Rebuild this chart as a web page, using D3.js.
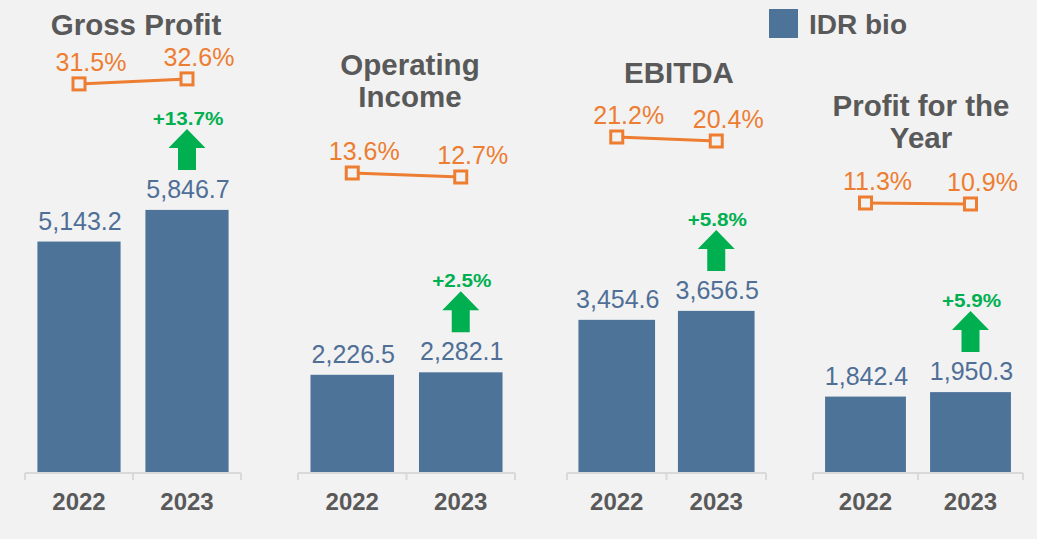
<!DOCTYPE html>
<html>
<head>
<meta charset="utf-8">
<script src="https://cdn.jsdelivr.net/npm/d3@7"></script>
<style>
  html, body { margin: 0; padding: 0; background: #f2f2f2; }
  svg { display: block; font-family: "Liberation Sans", Arial, sans-serif; }
</style>
</head>
<body>
<svg id="chart" width="1037" height="539"></svg>
<script>
// ---- data ----
const categories = ["2022", "2023"];
const metricTitles = [["Gross Profit"], ["Operating", "Income"], ["EBITDA"], ["Profit for the", "Year"]];
const values2022 = [5143.2, 2226.5, 3454.6, 1842.4];
const values2023 = [5846.7, 2282.1, 3656.5, 1950.3];
const margin2022 = [31.5, 13.6, 21.2, 11.3];
const margin2023 = [32.6, 12.7, 20.4, 10.9];
const growthLabels = ["+13.7%", "+2.5%", "+5.8%", "+5.9%"];
const legendLabel = "IDR bio";

// ---- per-panel axis settings (like separate Excel charts) ----
const valueAxisMax = [10000, 10200, 10150, 10850];
const marginAxisMin = [-54.1, -53.9, -46, -96.7];
const marginAxisMax = [44.9, 47.35, 44, 83.3];

// ---- layout ----
const W = 1037, H = 539;
const baseY = 473, topY = 23;
const panelRanges = [[25, 241], [298, 515], [567, 766], [813, 1023]];
const titleCenters = [136, 410, 679, 921];
const titleBaselines = [35, 75, 83, 116];

const C = {
  bar: "#4e7399",
  barLabel: "#4f6f97",
  orange: "#ed7d31",
  green: "#00b050",
  grey: "#595959",
  axis: "#d9d9d9",
  bg: "#f2f2f2"
};

const svg = d3.select("#chart");
svg.append("rect").attr("width", W).attr("height", H).attr("fill", C.bg);

metricTitles.forEach((title, i) => {
  const g = svg.append("g");
  const vals = [values2022[i], values2023[i]];
  const margins = [margin2022[i], margin2023[i]];

  const x = d3.scaleBand().domain(categories).range(panelRanges[i])
    .paddingInner(0.23).paddingOuter(0.115);
  const y = d3.scaleLinear().domain([0, valueAxisMax[i]]).range([baseY, topY]);
  const ym = d3.scaleLinear().domain([marginAxisMin[i], marginAxisMax[i]]).range([baseY, topY]);

  // bars
  g.selectAll("rect.bar").data(categories).join("rect")
    .attr("class", "bar")
    .attr("x", d => x(d))
    .attr("width", x.bandwidth())
    .attr("y", (d, j) => y(vals[j]))
    .attr("height", (d, j) => baseY - y(vals[j]))
    .attr("fill", C.bar);

  // value labels
  g.selectAll("text.val").data(categories).join("text")
    .attr("class", "val")
    .attr("x", d => x(d) + x.bandwidth() / 2 + 1)
    .attr("y", (d, j) => y(vals[j]) - 12)
    .attr("text-anchor", "middle")
    .attr("font-size", 25)
    .attr("fill", C.barLabel)
    .text((d, j) => d3.format(",.1f")(vals[j]));

  // category axis
  const [r0, r1] = x.range();
  const step = x.step();
  g.append("line").attr("x1", r0).attr("x2", r1).attr("y1", baseY).attr("y2", baseY)
    .attr("stroke", C.axis).attr("stroke-width", 2);
  d3.range(categories.length + 1).forEach(k => {
    const tx = r0 + k * step;
    g.append("line").attr("x1", tx).attr("x2", tx).attr("y1", baseY).attr("y2", baseY + 7)
      .attr("stroke", C.axis).attr("stroke-width", 2);
  });
  g.selectAll("text.cat").data(categories).join("text")
    .attr("class", "cat")
    .attr("x", d => x(d) + x.bandwidth() / 2)
    .attr("y", 510)
    .attr("text-anchor", "middle")
    .attr("font-size", 24)
    .attr("font-weight", "bold")
    .attr("fill", C.grey)
    .text(d => d);

  // margin line
  const cx = d => x(d) + x.bandwidth() / 2;
  const line = d3.line().x(d => cx(d)).y((d, j) => ym(margins[j]));
  g.append("path").datum(categories).attr("d", line)
    .attr("fill", "none").attr("stroke", C.orange).attr("stroke-width", 3);
  g.selectAll("rect.mk").data(categories).join("rect")
    .attr("class", "mk")
    .attr("x", d => cx(d) - 6)
    .attr("y", (d, j) => ym(margins[j]) - 6)
    .attr("width", 12).attr("height", 12)
    .attr("fill", C.bg).attr("stroke", C.orange).attr("stroke-width", 3);
  g.selectAll("text.mg").data(categories).join("text")
    .attr("class", "mg")
    .attr("x", d => cx(d) + 12)
    .attr("y", (d, j) => ym(margins[j]) - 13)
    .attr("text-anchor", "middle")
    .attr("font-size", 25)
    .attr("fill", C.orange)
    .text((d, j) => d3.format(".1f")(margins[j]) + "%");

  // growth arrow above 2023 bar
  const ax = cx(categories[1]);
  const aBottom = y(vals[1]) - 40;
  const aH = 41, headH = 19, headW = 37, shaftW = 18;
  const aTop = aBottom - aH;
  g.append("path")
    .attr("d", `M${ax},${aTop} L${ax + headW / 2},${aTop + headH} L${ax + shaftW / 2},${aTop + headH}
      L${ax + shaftW / 2},${aBottom} L${ax - shaftW / 2},${aBottom} L${ax - shaftW / 2},${aTop + headH}
      L${ax - headW / 2},${aTop + headH} Z`)
    .attr("fill", C.green);
  g.append("text")
    .attr("transform", `translate(${ax + 1},${aTop - 4}) scale(1.15,1)`)
    .attr("text-anchor", "middle")
    .attr("font-size", 18)
    .attr("font-weight", "bold")
    .attr("fill", C.green)
    .text(growthLabels[i]);

  // title
  title.forEach((t, k) => {
    g.append("text")
      .attr("x", titleCenters[i])
      .attr("y", titleBaselines[i] + k * 32)
      .attr("text-anchor", "middle")
      .attr("font-size", 29.5)
      .attr("font-weight", "bold")
      .attr("fill", C.grey)
      .text(t);
  });
});

// legend
const lg = svg.append("g");
lg.append("rect").attr("x", 769).attr("y", 9).attr("width", 29).attr("height", 29).attr("fill", C.bar);
lg.append("text").attr("x", 809).attr("y", 34)
  .attr("font-size", 28).attr("font-weight", "bold").attr("fill", C.grey)
  .text(legendLabel);
</script>
</body>
</html>
